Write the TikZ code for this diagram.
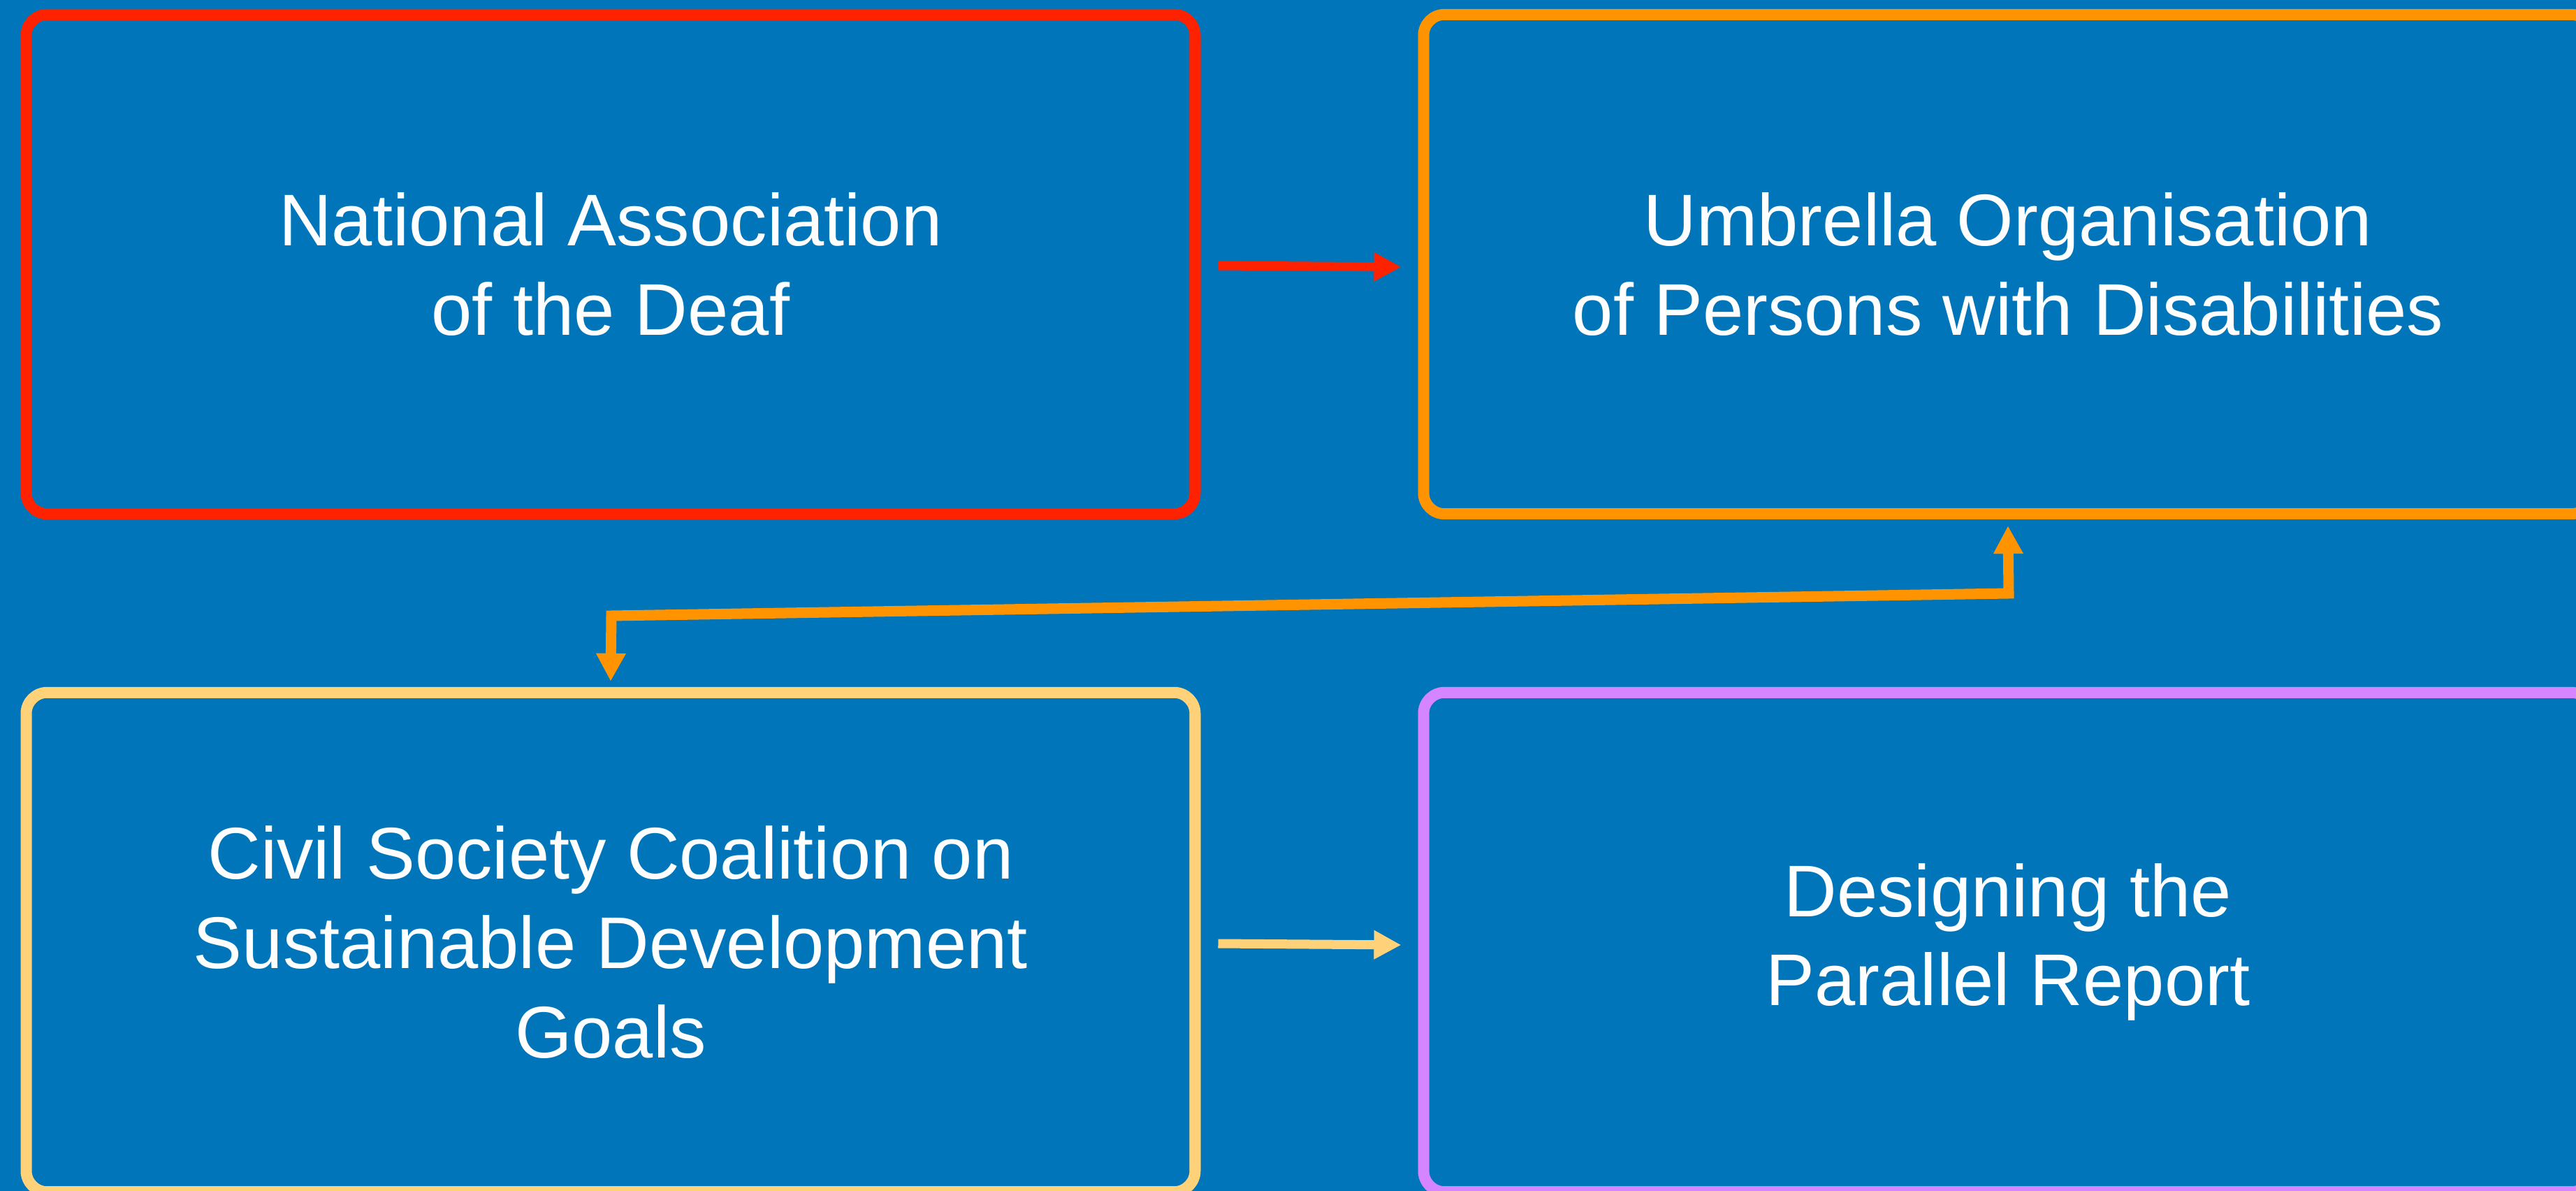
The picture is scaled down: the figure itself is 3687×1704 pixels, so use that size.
\documentclass[tikz,border=0pt]{standalone}
\usepackage{fontspec}
\setmainfont{Liberation Sans}
\usetikzlibrary{arrows.meta}
\definecolor{bg}{RGB}{0,117,186}
\definecolor{cred}{RGB}{255,34,0}
\definecolor{corange}{RGB}{255,148,0}
\definecolor{cyellow}{RGB}{255,210,122}
\definecolor{cpurple}{RGB}{213,133,255}
\begin{document}
\begin{tikzpicture}[x=0.01cm,y=-0.01cm,
  box/.style={draw, line width=0.16cm, rounded corners=0.3cm,
    minimum width=16.72cm, minimum height=7.14cm, outer sep=0pt, inner sep=0pt,
    text=white, align=center, font=\fontsize{29.8}{36.3}\selectfont},
  conn/.style={line width=0.13cm, line join=miter, -{Triangle[length=0.39cm,width=0.39cm]}},
  conn2/.style={line width=0.15cm, line join=miter, {Triangle[length=0.40cm,width=0.40cm]}-{Triangle[length=0.40cm,width=0.40cm]}}]
\useasboundingbox (0,0) rectangle (3687,1704);
\fill[bg] (0,0) rectangle (3687,1704);
\node[box, draw=cred] (nad) at (874,378) {National Association\\of the Deaf};
\node[box, draw=corange] (uo) at (2874,378) {Umbrella Organisation\\of Persons with Disabilities};
\node[box, draw=cyellow] (cs) at (874,1348) {Civil Society Coalition on\\Sustainable Development\\Goals};
\node[box, draw=cpurple] (dp) at (2874,1348) {Designing the\\Parallel Report};
\coordinate (b1) at (2875,849);
\coordinate (b2) at (875,881);
\draw[conn, cred] ([xshift=0.33cm,yshift=-0.02cm]nad.east) -- ([xshift=-0.32cm,yshift=-0.04cm]uo.west);
\draw[conn, cyellow] ([xshift=0.33cm,yshift=-0.02cm]cs.east) -- ([xshift=-0.32cm,yshift=-0.04cm]dp.west);
\draw[conn2, corange] ([yshift=-0.17cm]uo.south) -- (b1) -- (b2) -- ([yshift=0.16cm]cs.north);
\end{tikzpicture}
\end{document}
